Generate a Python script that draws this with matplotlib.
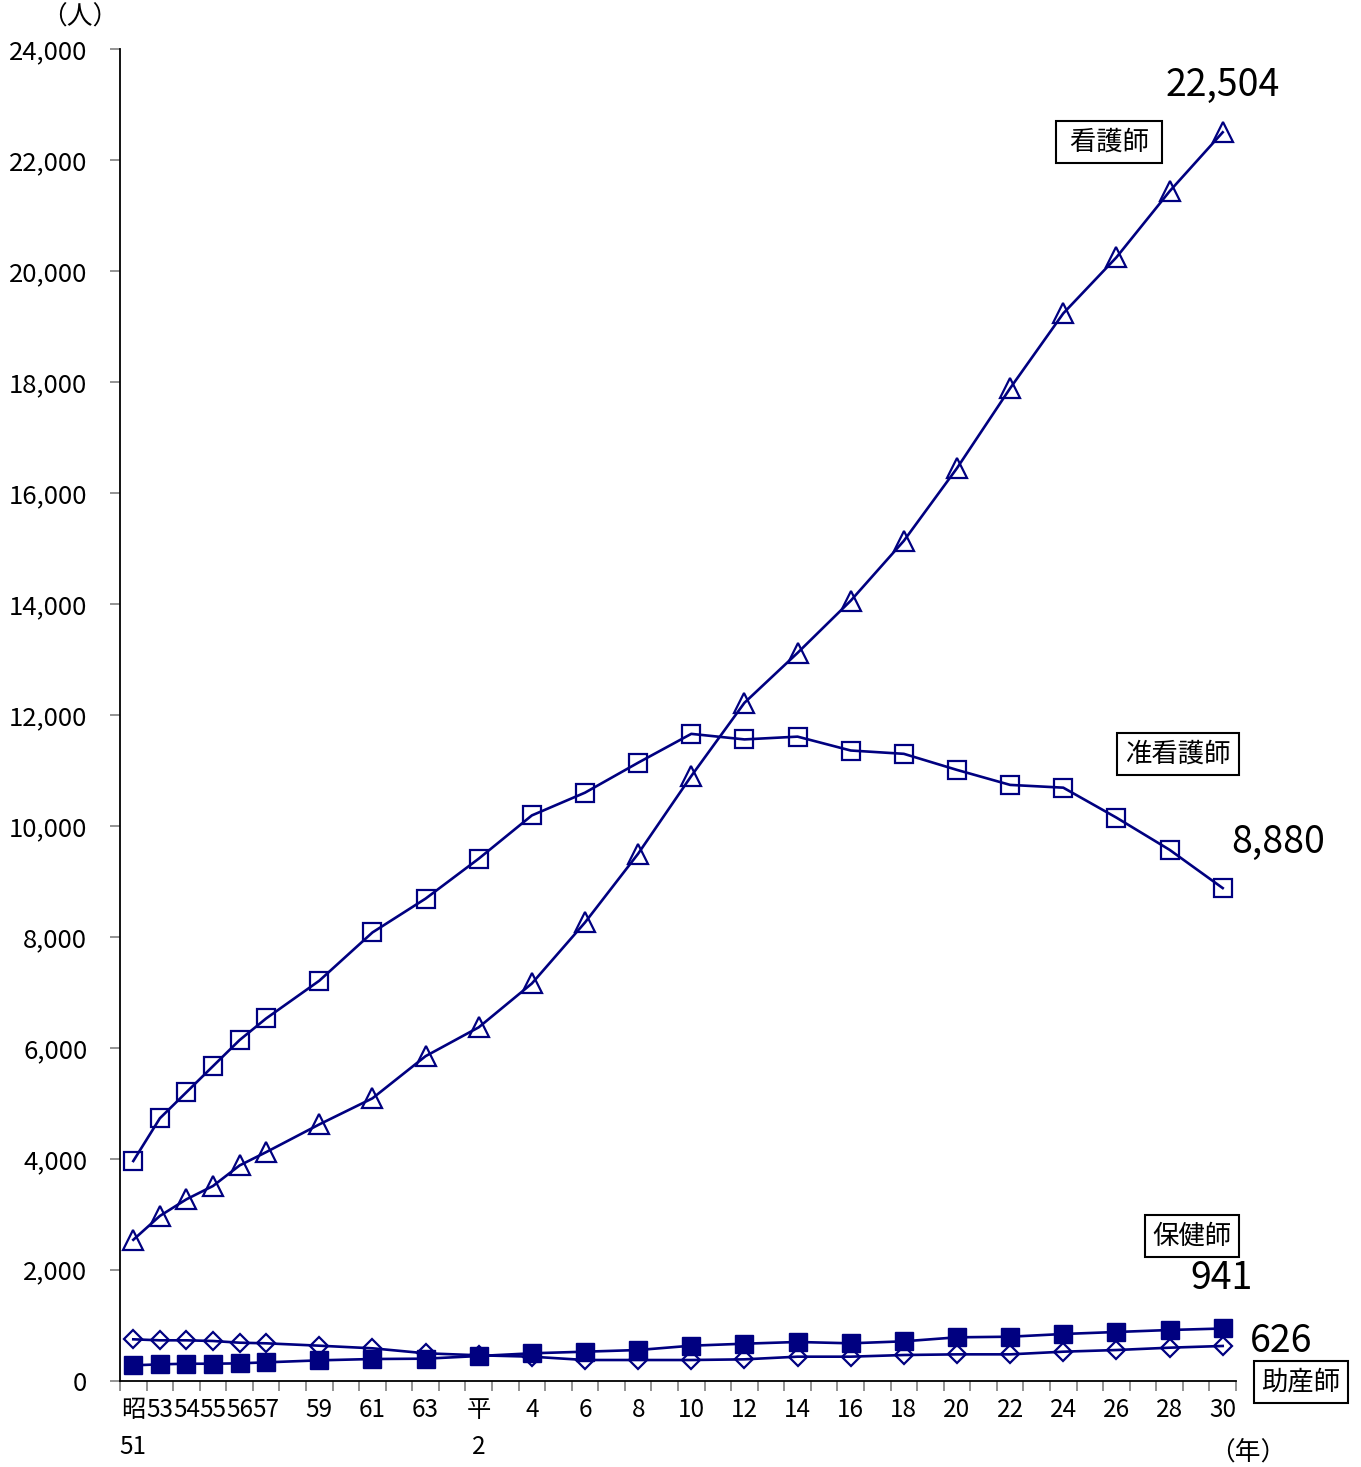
import matplotlib
matplotlib.use("Agg")
import matplotlib.pyplot as plt
import matplotlib.ticker as mticker

plt.rcParams['font.family'] = ['Noto Sans CJK JP', 'DejaVu Sans']

# categories on the x axis (blank = no survey that year)
cats = ['昭\n51', '53', '54', '55', '56', '57', '', '59', '', '61', '', '63', '',
        '平\n2', '', '4', '', '6', '', '8', '', '10', '', '12', '', '14', '',
        '16', '', '18', '', '20', '', '22', '', '24', '', '26', '', '28', '', '30']

# values (persons) for each non-blank category
kangoshi = [2540, 2970, 3270, 3510, 3880, 4120, 4620, 5090, 5850, 6370, 7160,
            8260, 9500, 10900, 12220, 13120, 14060, 15140, 16450, 17890, 19240,
            20250, 21440, 22504]
jun_kangoshi = [3960, 4730, 5200, 5670, 6140, 6530, 7210, 8080, 8690, 9410,
                10190, 10600, 11140, 11660, 11560, 11610, 11360, 11300, 11010,
                10740, 10690, 10150, 9570, 8880]
hokenshi = [277, 295, 306, 306, 313, 331, 367, 391, 397, 445, 494, 523, 553,
            631, 667, 698, 674, 710, 782, 793, 842, 878, 914, 941]
josanshi = [746, 728, 728, 716, 685, 674, 631, 584, 494, 458, 433, 373, 373,
            373, 385, 433, 433, 463, 475, 475, 523, 553, 595, 626]

x = [i for i, c in enumerate(cats) if c]
navy = '#000080'

fig = plt.figure(figsize=(13.61, 14.67), dpi=100)
ax = fig.add_axes([120 / 1361, 1 - 1380.7 / 1467, 1116 / 1361, 1331.4 / 1467])

ax.plot(x, jun_kangoshi, color=navy, lw=1.9, marker='s', ms=13, mfc='none',
        mec=navy, mew=1.6)
ax.plot(x, kangoshi, color=navy, lw=1.9, marker='^', ms=14, mfc='none',
        mec=navy, mew=1.6)
ax.plot(x, josanshi, color=navy, lw=1.9, marker='D', ms=9.5, mfc='none',
        mec=navy, mew=1.6)
ax.plot(x, hokenshi, color=navy, lw=1.9, marker='s', ms=13.5, mfc=navy,
        mec=navy)

ax.set_xlim(-0.5, len(cats) - 0.5)
ax.set_ylim(0, 24000)

# y axis
ax.yaxis.set_major_locator(mticker.MultipleLocator(2000))
ax.yaxis.set_major_formatter(mticker.FuncFormatter(lambda v, p: f'{int(v):,}'))
ax.tick_params(axis='y', length=7, width=1.2, color='#808080', pad=16.5,
               labelsize=18.5)

# x axis: ticks at category boundaries, labels at centres
ax.set_xticks([i - 0.5 for i in range(len(cats) + 1)])
ax.set_xticklabels([])
ax.set_xticks(range(len(cats)), minor=True)
ax.set_xticklabels(cats, minor=True, fontsize=17.5, linespacing=1.55)
ax.tick_params(axis='x', which='major', length=7, width=1.2, color='#808080')
ax.tick_params(axis='x', which='minor', length=0, pad=12)

for s in ['top', 'right']:
    ax.spines[s].set_visible(False)
for s in ['left', 'bottom']:
    ax.spines[s].set_linewidth(1.3)
    ax.spines[s].set_color('black')

# end values
ax.annotate(f'{kangoshi[-1]:,}', (x[-1], kangoshi[-1]), xytext=(0, 34),
            textcoords='offset points', ha='center', va='center', fontsize=27)
ax.annotate(f'{jun_kangoshi[-1]:,}', (x[-1], jun_kangoshi[-1]), xytext=(40, 33),
            textcoords='offset points', ha='center', va='center', fontsize=27)
ax.annotate(f'{hokenshi[-1]:,}', (x[-1], hokenshi[-1]), xytext=(-1, 36),
            textcoords='offset points', ha='center', va='center', fontsize=27)
ax.annotate(f'{josanshi[-1]:,}', (x[-1], josanshi[-1]), xytext=(42, 3),
            textcoords='offset points', ha='center', va='center', fontsize=27)

# series name boxes
box = dict(boxstyle='square,pad=0.3', fc='white', ec='black', lw=1.5)
fig.text(1109 / 1361, 1 - 142 / 1467, ' 看護師 ', ha='center', va='center',
         fontsize=19, bbox=box)
fig.text(1178 / 1361, 1 - 754 / 1467, '准看護師', ha='center', va='center',
         fontsize=19, bbox=box)
fig.text(1192 / 1361, 1 - 1236 / 1467, '保健師', ha='center', va='center',
         fontsize=19, bbox=box)
fig.text(1301 / 1361, 1 - 1382 / 1467, '助産師', ha='center', va='center',
         fontsize=19, bbox=box)

# unit labels
fig.text(80 / 1361, 1 - 18 / 1467, '（人）', ha='center', va='center',
         fontsize=18.5)
fig.text(1248 / 1361, 1 - 1453 / 1467, '（年）', ha='center', va='center',
         fontsize=18.5)

fig.savefig('out.png', dpi=100)
